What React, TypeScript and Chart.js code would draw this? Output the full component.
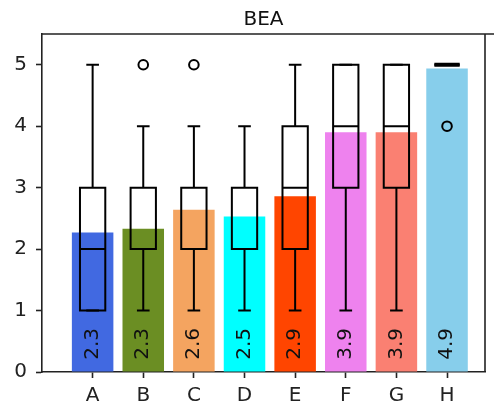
import React, { useEffect, useRef } from "react";
import { Chart, registerables } from "chart.js";

Chart.register(...registerables);

const categories = ["A", "B", "C", "D", "E", "F", "G", "H"];
const means = [2.27, 2.33, 2.64, 2.53, 2.86, 3.9, 3.9, 4.94];
const barColors = [
  "#4169E1",
  "#6B8E23",
  "#F4A460",
  "#00FFFF",
  "#FF4500",
  "#EE82EE",
  "#FA8072",
  "#87CEEB",
];
const whiskerLow = [1, 1, 1, 1, 1, 1, 1, 5];
const q1 = [1, 2, 2, 2, 2, 3, 3, 5];
const medians = [2, 2, 2, 2, 3, 4, 4, 5];
const q3 = [3, 3, 3, 3, 4, 5, 5, 5];
const whiskerHigh = [5, 4, 4, 4, 5, 5, 5, 5];
const outlierCat = [1, 2, 7];
const outlierVal = [5, 5, 4];
const yTicks = [0, 1, 2, 3, 4, 5];
const title = "BEA";

const FONT = "'DejaVu Sans', sans-serif";

export default function App() {
  const ref = useRef<HTMLCanvasElement | null>(null);
  useEffect(() => {
    const canvas = ref.current;
    if (!canvas) return;
    const boxPlugin = {
      id: "boxes",
      afterDatasetsDraw(chart: any) {
        const ctx = chart.ctx;
        const xs = chart.scales.x;
        const ys = chart.scales.y;
        ctx.save();
        // value labels
        ctx.fillStyle = "#111";
        ctx.font = `20px ${FONT}`;
        means.forEach((m, i) => {
          const px = xs.getPixelForValue(i);
          const py = ys.getPixelForValue(0.2);
          ctx.save();
          ctx.translate(px, py);
          ctx.rotate(-Math.PI / 2);
          ctx.textAlign = "left";
          ctx.textBaseline = "middle";
          ctx.fillText(m.toFixed(1), 0, 0);
          ctx.restore();
        });
        // boxes
        ctx.strokeStyle = "#000";
        categories.forEach((_, i) => {
          const l = xs.getPixelForValue(i - 0.25);
          const r = xs.getPixelForValue(i + 0.25);
          const cl = xs.getPixelForValue(i - 0.125);
          const cr = xs.getPixelForValue(i + 0.125);
          const cx = xs.getPixelForValue(i);
          const yq1 = ys.getPixelForValue(q1[i]);
          const yq3 = ys.getPixelForValue(q3[i]);
          const ym = ys.getPixelForValue(medians[i]);
          const ylo = ys.getPixelForValue(whiskerLow[i]);
          const yhi = ys.getPixelForValue(whiskerHigh[i]);
          ctx.lineWidth = q1[i] === q3[i] ? 4 : 2;
          ctx.beginPath();
          ctx.rect(l, yq3, r - l, yq1 - yq3);
          ctx.stroke();
          ctx.lineWidth = 2;
          ctx.beginPath();
          ctx.moveTo(l, ym);
          ctx.lineTo(r, ym);
          ctx.moveTo(cx, yq1);
          ctx.lineTo(cx, ylo);
          ctx.moveTo(cx, yq3);
          ctx.lineTo(cx, yhi);
          ctx.moveTo(cl, ylo);
          ctx.lineTo(cr, ylo);
          ctx.moveTo(cl, yhi);
          ctx.lineTo(cr, yhi);
          ctx.stroke();
        });
        // outliers
        ctx.lineWidth = 2;
        outlierCat.forEach((c, k) => {
          ctx.beginPath();
          ctx.arc(xs.getPixelForValue(c), ys.getPixelForValue(outlierVal[k]), 4.8, 0, Math.PI * 2);
          ctx.stroke();
        });
        // frame: top and right spines
        const a = chart.chartArea;
        ctx.strokeStyle = "#222";
        ctx.lineWidth = 1.6;
        ctx.beginPath();
        ctx.moveTo(a.left, a.top);
        ctx.lineTo(chart.width, a.top);
        ctx.moveTo(a.right, a.top);
        ctx.lineTo(a.right, a.bottom);
        ctx.stroke();
        // title
        ctx.fillStyle = "#111";
        ctx.font = `20px ${FONT}`;
        ctx.textAlign = "center";
        ctx.textBaseline = "alphabetic";
        ctx.fillText(title, (a.left + a.right) / 2, 25);
        ctx.restore();
      },
    };
    const chart = new Chart(canvas, {
      type: "bar",
      data: {
        datasets: [
          {
            data: means.map((m, i) => ({ x: i, y: m })),
            backgroundColor: barColors,
            borderWidth: 0,
            categoryPercentage: 0.82,
            barPercentage: 1,
          },
        ],
      },
      options: {
        responsive: false,
        animation: false,
        devicePixelRatio: 1,
        layout: { padding: { left: 0, top: 34, right: 9, bottom: 0 } },
        plugins: {
          legend: { display: false },
          tooltip: { enabled: false },
          title: { display: false },
        },
        scales: {
          x: {
            type: "linear",
            min: -1,
            max: 7.75,
            offset: false,
            afterBuildTicks: (s: any) => {
              s.ticks = categories.map((_, i) => ({ value: i }));
            },
            afterFit: (s: any) => {
              s.height = 35;
            },
            ticks: {
              callback: (v: any) => categories[v as number] ?? "",
              color: "#222",
              font: { family: FONT, size: 20 },
              padding: 6,
              maxRotation: 0,
              autoSkip: false,
            },
            grid: {
              display: true,
              offset: false,
              drawOnChartArea: false,
              drawTicks: true,
              tickLength: 6,
              tickColor: "#222",
              tickWidth: 1.6,
            },
            border: { display: true, color: "#222", width: 1.6 },
          },
          y: {
            min: 0,
            max: 5.5,
            afterBuildTicks: (s: any) => {
              s.ticks = yTicks.map((v) => ({ value: v }));
            },
            afterFit: (s: any) => {
              s.width = 42;
            },
            ticks: {
              color: "#222",
              font: { family: FONT, size: 20 },
              padding: 9,
            },
            grid: {
              display: true,
              drawOnChartArea: false,
              drawTicks: true,
              tickLength: 6,
              tickColor: "#222",
              tickWidth: 1.6,
            },
            border: { display: true, color: "#222", width: 1.6 },
          },
        },
      },
      plugins: [boxPlugin],
    });
    return () => chart.destroy();
  }, []);
  return (
    <div style={{ position: "fixed", left: 0, top: 0, width: 494, height: 407, background: "#fff" }}>
      <canvas ref={ref} width={494} height={407} style={{ width: 494, height: 407, display: "block" }} />
    </div>
  );
}
